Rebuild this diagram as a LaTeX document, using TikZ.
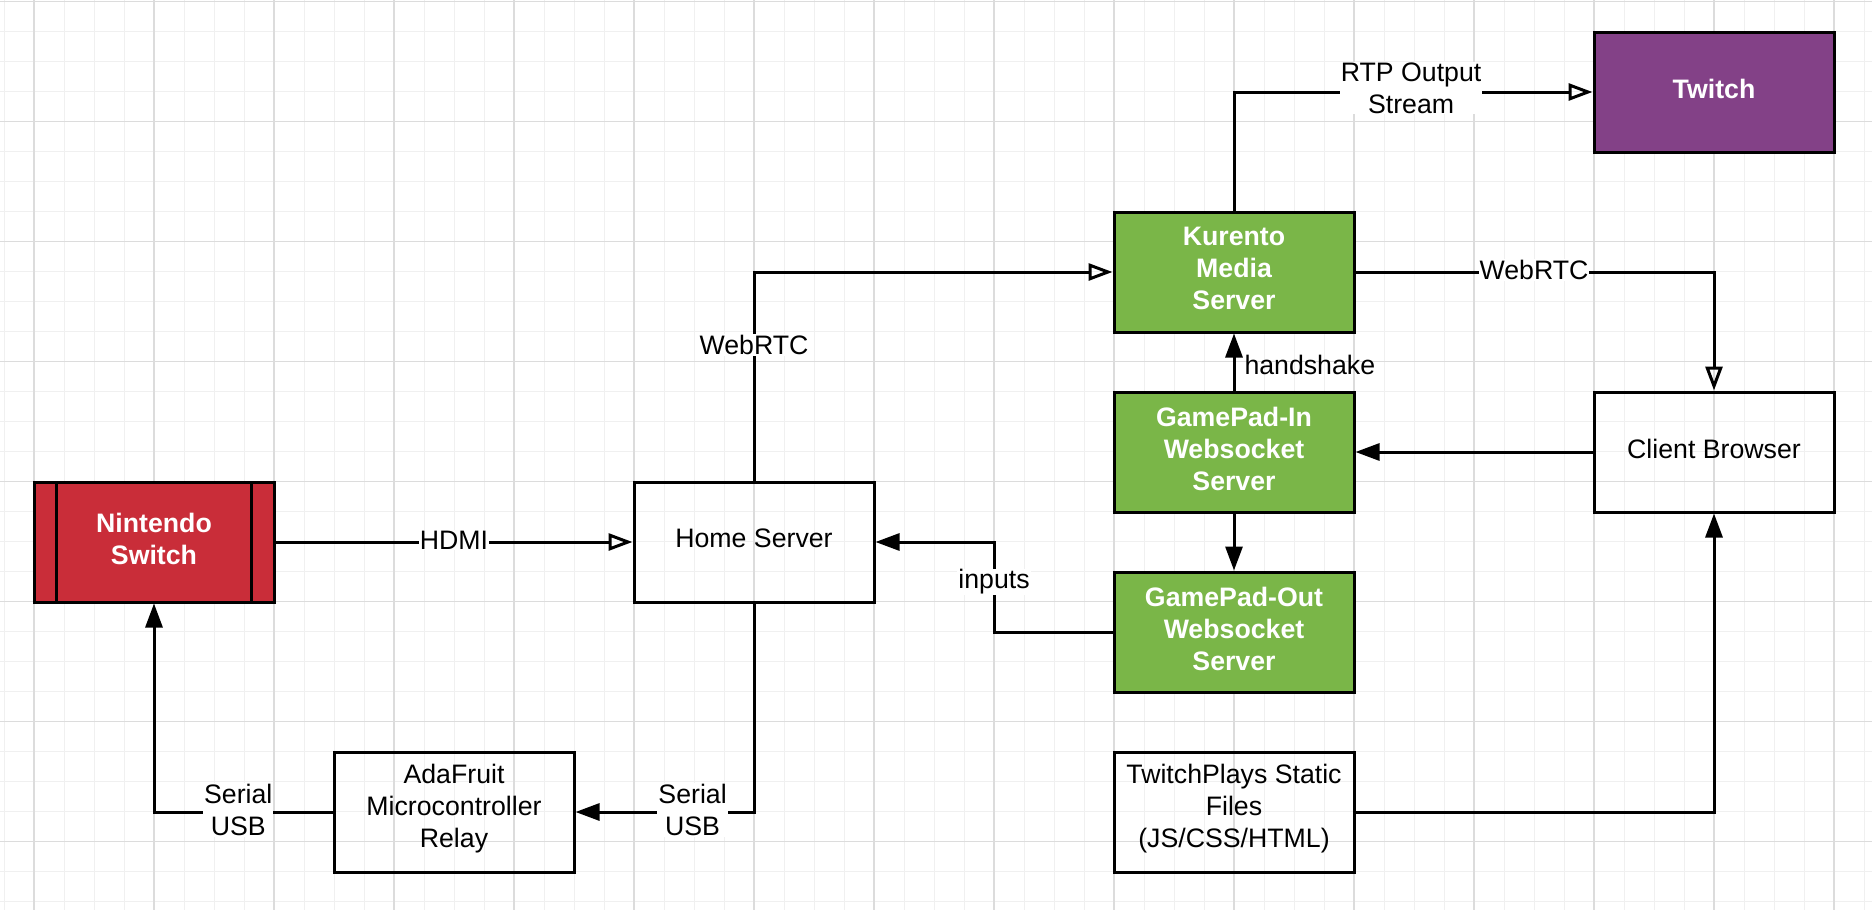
\documentclass[tikz,border=0pt]{standalone}
\usepackage{fontspec}
\setmainfont{Liberation Sans}
\usetikzlibrary{arrows.meta,calc}
\definecolor{lred}{HTML}{C92D39}
\definecolor{lgreen}{HTML}{7AB648}
\definecolor{lpurple}{HTML}{834187}
\definecolor{gminor}{HTML}{F0F0F0}
\definecolor{gmajor}{HTML}{DCDCDC}
\begin{document}
\begin{tikzpicture}[x=1pt,y=-1pt,
  box/.style={draw=black, line width=3pt, minimum width=240pt, minimum height=120pt, inner sep=0pt},
  cbox/.style={box, fill=#1},
  btxt/.style={align=center, inner sep=0pt, font=\fontsize{26.7}{32}\selectfont},
  ctxt/.style={btxt, text=white, font=\fontsize{26.7}{32}\selectfont\bfseries},
  conn/.style={line width=3pt},
  openarr/.style={conn, -{Triangle[open, length=24pt, width=17pt]}},
  fillarr/.style={conn, -{Triangle[length=24pt, width=17pt]}},
  lbl/.style={fill=white, inner sep=1pt, align=center, yshift=2pt, font=\fontsize{26.7}{32}\selectfont}
]
\useasboundingbox (0,0) rectangle (1872,910);
\fill[white] (0,0) rectangle (1872,910);
% grid
\foreach \i in {0,...,62} \draw[gminor, line width=1pt] (4+30*\i,0) -- (4+30*\i,910);
\foreach \j in {0,...,30} \draw[gminor, line width=1pt] (0,1.5+30*\j) -- (1872,1.5+30*\j);
\foreach \i in {0,...,15} \draw[gmajor, line width=1.2pt] (34+120*\i,0) -- (34+120*\i,910);
\foreach \j in {0,...,7} \draw[gmajor, line width=1.2pt] (0,1.5+120*\j) -- (1872,1.5+120*\j);

% nodes
\node[cbox=lred] (ns) at (154,542) {};
\draw[line width=3pt] ([xshift=24pt,yshift=-1.5pt]ns.north west) -- ([xshift=24pt,yshift=1.5pt]ns.south west);
\draw[line width=3pt] ([xshift=-24pt,yshift=-1.5pt]ns.north east) -- ([xshift=-24pt,yshift=1.5pt]ns.south east);
\node[ctxt] (ns-t) at ([yshift=3.5pt]ns.center) {Nintendo\\Switch};
\node[box] (hs) at (754,542) {};
\node[btxt] (hs-t) at ([yshift=3.5pt]hs.center) {Home Server};
\node[box] (ada) at (454,812) {};
\node[btxt] (ada-t) at ([yshift=3.5pt]ada.center) {AdaFruit\\Microcontroller\\Relay};
\node[cbox=lgreen] (kur) at (1234,272) {};
\node[ctxt] (kur-t) at ([yshift=3.5pt]kur.center) {Kurento\\Media\\Server};
\node[cbox=lpurple] (tw) at (1714,92) {};
\node[ctxt] (tw-t) at ([yshift=3.5pt]tw.center) {Twitch};
\node[cbox=lgreen] (gin) at (1234,452) {};
\node[ctxt] (gin-t) at ([yshift=3.5pt]gin.center) {GamePad-In\\Websocket\\Server};
\node[cbox=lgreen] (gout) at (1234,632) {};
\node[ctxt] (gout-t) at ([yshift=3.5pt]gout.center) {GamePad-Out\\Websocket\\Server};
\node[box] (cb) at (1714,452) {};
\node[btxt] (cb-t) at ([yshift=3.5pt]cb.center) {Client Browser};
\node[box] (tp) at (1234,812) {};
\node[btxt] (tp-t) at ([yshift=3.5pt]tp.center) {TwitchPlays Static\\Files\\(JS/CSS/HTML)};

% connectors
\draw[openarr] (ns.east) -- node[lbl] {HDMI} (hs.west);
\draw[openarr] (hs.north) |- node[lbl, pos=0.32] {WebRTC} (kur.west);
\draw[openarr] (kur.north) |- node[lbl, pos=0.747, yshift=2pt] {RTP Output\\Stream} (tw.west);
\draw[openarr] (kur.east) -| node[lbl, pos=0.249] {WebRTC} (cb.north);
\draw[fillarr] (gin.north) -- node[anchor=west, xshift=8pt, yshift=-5pt, lbl, fill=none] {handshake} (kur.south);
\draw[fillarr] (gin.south) -- (gout.north);
\draw[fillarr] (cb.west) -- (gin.east);
\draw[fillarr] (tp.east) -| (cb.south);
\coordinate (mid) at ($(gout.west)!0.5!(hs.east)$);
\draw[fillarr] (gout.west) -| (mid) |- (hs.east);
\node[lbl] (inp) at ([yshift=3pt]mid) {inputs};
\draw[fillarr] (hs.south) |- node[lbl, pos=0.672] {Serial\\USB} (ada.east);
\draw[fillarr] (ada.west) -| node[lbl, pos=0.264] {Serial\\USB} (ns.south);
\end{tikzpicture}
\end{document}
